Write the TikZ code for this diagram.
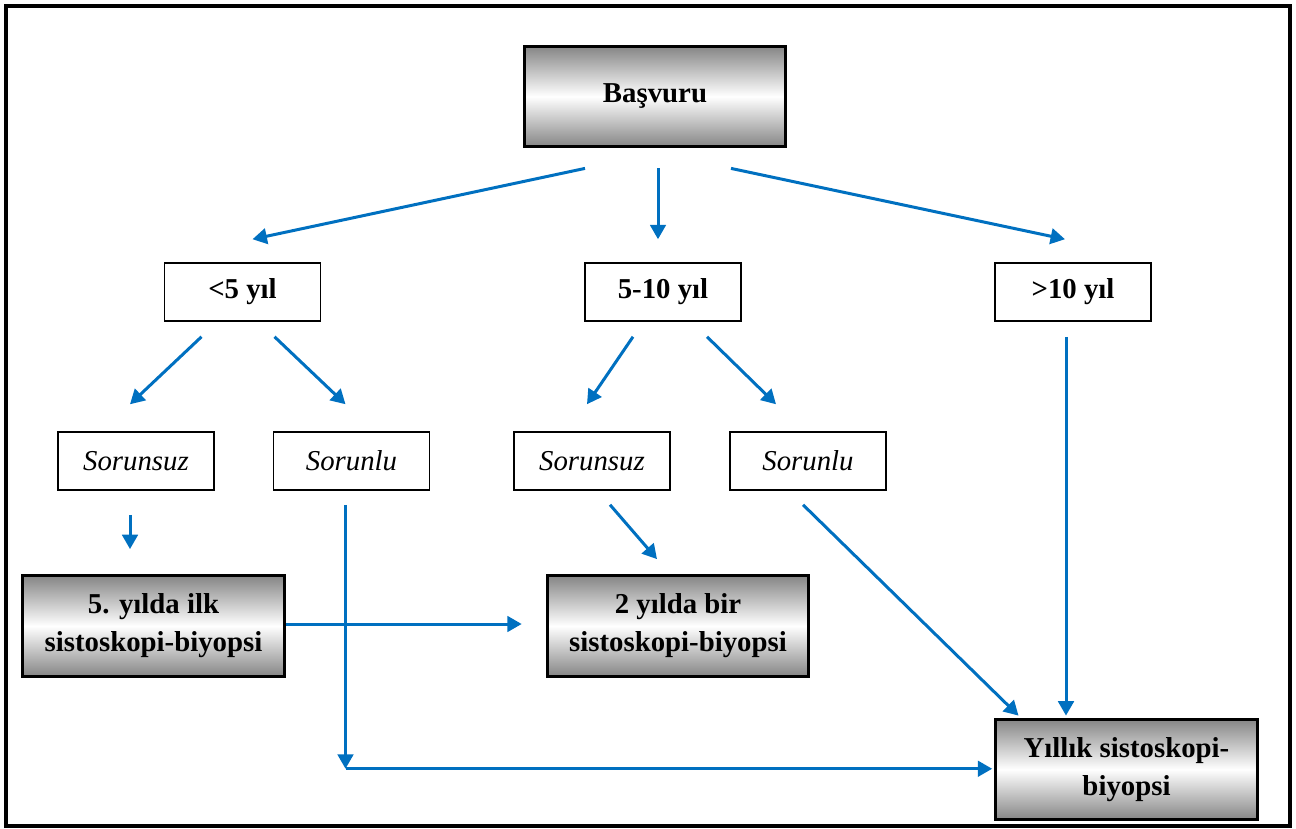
\documentclass[tikz,border=0pt]{standalone}
\usepackage{fontspec}
\setmainfont{Liberation Serif}
\usepackage{xcolor}
\definecolor{Ink}{HTML}{000000}
\definecolor{OkMavi}{HTML}{0070C0}
\definecolor{Golge}{HTML}{858585}
\usepackage{tikz}
\usetikzlibrary{arrows.meta,positioning,calc}
\tikzset{
  yilbox/.style={draw=Ink,fill=white,line width=.8pt,minimum width=65pt,minimum height=24pt,
    align=center,text=Ink,font=\fontsize{12}{15.8}\selectfont\bfseries,inner sep=2pt},
  durum/.style={yilbox,font=\fontsize{12}{15.8}\selectfont\itshape},
  sonuc/.style={draw=Ink,line width=1.25pt,top color=Golge,bottom color=Golge,middle color=white,
    minimum width=109pt,minimum height=42pt,align=center,text=Ink,
    font=\fontsize{12}{15.8}\selectfont\bfseries,inner sep=2pt},
  ok/.style={-{Triangle[length=6pt,width=6.5pt]},line width=1.25pt,draw=OkMavi},
  cerceve/.style={draw=Ink,line width=1.3pt}
}
\begin{document}
\begin{tikzpicture}[x=0.41667pt,y=-0.41667pt]
\useasboundingbox (0,0) rectangle (1296,829);
\draw[cerceve] (6,6) rectangle (1290,826);
\node[sonuc] (basvuru) at (655,96.5) {Başvuru};
\node[yilbox] (yil5) at (242.5,292) {<5 yıl};
\node[yilbox] (yil10) at (663,292) {5-10 yıl};
\node[yilbox] (yil10p) at (1073,292) {>10 yıl};
\node[durum] (sorunsuzA) at (136,461) {Sorunsuz};
\node[durum] (sorunluA) at (351.5,461) {Sorunlu};
\node[durum] (sorunsuzB) at (592,461) {Sorunsuz};
\node[durum] (sorunluB) at (808,461) {Sorunlu};
\node[sonuc] (ilk) at (153.5,626) {5. yılda ilk\\sistoskopi-biyopsi};
\node[sonuc] (iki) at (678,626) {2 yılda bir\\sistoskopi-biyopsi};
\node[sonuc] (yillik) at (1126.5,769.5) {Yıllık sistoskopi-\\biyopsi};
\coordinate (donus) at ($(sorunluA.south)+(-6,278)$);
\draw[ok] ($(basvuru.south)+(-70,20)$) -- ($(yil5.north)+(10,-23)$);
\draw[ok] ($(basvuru.south)+(3,20)$) -- ($(yil10.north)+(-5,-23)$);
\draw[ok] ($(basvuru.south)+(76,20)$) -- ($(yil10p.north)+(-8,-23)$);
\draw[ok] ($(yil5.south)+(-41,15)$) -- ($(sorunsuzA.north)+(-6,-27)$);
\draw[ok] ($(yil5.south)+(32,15)$) -- ($(sorunluA.north)+(-6,-27)$);
\draw[ok] ($(yil10.south)+(-30,15)$) -- ($(sorunsuzB.north)+(-5,-27)$);
\draw[ok] ($(yil10.south)+(44,15)$) -- ($(sorunluB.north)+(-32,-27)$);
\draw[ok] ($(yil10p.south)+(-7,15)$) -- ($(yillik.north)+(-60.5,-2)$);
\draw[ok] ($(sorunsuzA.south)+(-6,24)$) -- ($(ilk.north)+(-23.5,-25)$);
\draw[ok] ($(sorunluA.south)+(-6,14)$) -- (donus);
\draw[ok] (donus) -- ($(donus -| yillik.west)+(-2,0)$);
\draw[ok] ($(ilk.east)+(0,-2)$) -- ($(iki.west)+(-24,-2)$);
\draw[ok] ($(sorunsuzB.south)+(18,14)$) -- ($(iki.north)+(-21,-15)$);
\draw[ok] ($(sorunluB.south)+(-5,14)$) -- ($(yillik.north)+(-108,-2)$);
\end{tikzpicture}
\end{document}
